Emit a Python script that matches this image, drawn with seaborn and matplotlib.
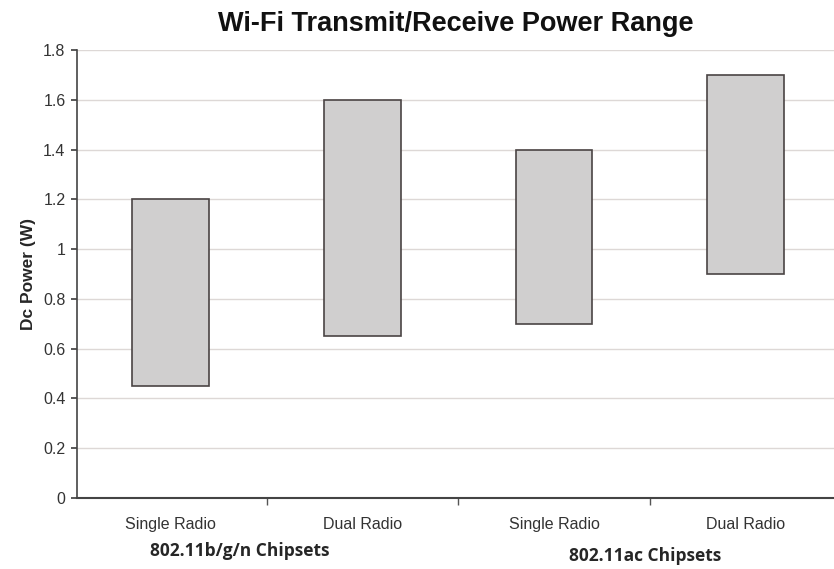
import pandas as pd
import matplotlib.pyplot as plt
import seaborn as sns

# Data
categories = ["Single Radio", "Dual Radio", "Single Radio ", "Dual Radio "]
tick_labels = ["Single Radio", "Dual Radio", "Single Radio", "Dual Radio"]
power_low = [0.45, 0.65, 0.70, 0.90]
power_high = [1.20, 1.60, 1.40, 1.70]
groups = ["802.11b/g/n Chipsets", "802.11ac Chipsets"]

df = pd.DataFrame({
    "Config": categories,
    "Low": power_low,
    "Span": [h - l for h, l in zip(power_high, power_low)],
})

sns.set_theme(style="white")
plt.rcParams["font.family"] = ["Liberation Sans", "DejaVu Sans"]

fig = plt.figure(figsize=(8.34, 5.69), dpi=100)
ax = fig.add_axes([0.092, 0.125, 0.908, 0.787])

sns.barplot(data=df, x="Config", y="Span", bottom=df["Low"].values, ax=ax,
            color="#d0cfcf", edgecolor="#4a4444", linewidth=1.2, width=0.4,
            saturation=1)

ax.set_ylim(0, 1.8)
ax.set_xlim(-0.49, 3.46)
yticks = [0, 0.2, 0.4, 0.6, 0.8, 1.0, 1.2, 1.4, 1.6, 1.8]
ax.set_yticks(yticks)
ax.set_yticklabels([f"{v:g}" for v in yticks], fontsize=11.5, color="#333333")
ax.set_xticks(range(len(tick_labels)))
ax.set_xticklabels(tick_labels, fontsize=11.5, color="#333333")
# Excel-style tick marks on the category boundaries
ax.set_xticks([0.5, 1.5, 2.5], minor=True)
ax.tick_params(axis="x", which="major", length=0, pad=14)
ax.tick_params(axis="x", which="minor", length=5, width=1, color="#555555",
               bottom=True, direction="out")
ax.tick_params(axis="y", length=4, color="#444444", left=True, pad=4)

ax.yaxis.grid(True, color="#ddd8d6", linewidth=1)
ax.set_axisbelow(True)
for side in ["top", "right"]:
    ax.spines[side].set_visible(False)
ax.spines["left"].set_color("#444444")
ax.spines["bottom"].set_color("#444444")
ax.spines["left"].set_linewidth(1.2)
ax.spines["bottom"].set_linewidth(1.5)

ax.set_xlabel("")
ax.set_ylabel("Dc Power (W)", fontsize=12.5, fontweight="bold", labelpad=5)
ax.set_title("Wi-Fi Transmit/Receive Power Range", fontsize=19.5,
             fontweight="bold", pad=14, color="#111111")

# Chipset group labels under the tick labels
fig.text(240 / 834, 1 - 551 / 569, groups[0], ha="center", va="center",
         fontsize=12.5, fontweight="bold", family=["Open Sans", "DejaVu Sans"])
fig.text(645 / 834, 1 - 556 / 569, groups[1], ha="center", va="center",
         fontsize=12.5, fontweight="bold", family=["Open Sans", "DejaVu Sans"])

plt.savefig("out.png", dpi=100)
plt.close()
